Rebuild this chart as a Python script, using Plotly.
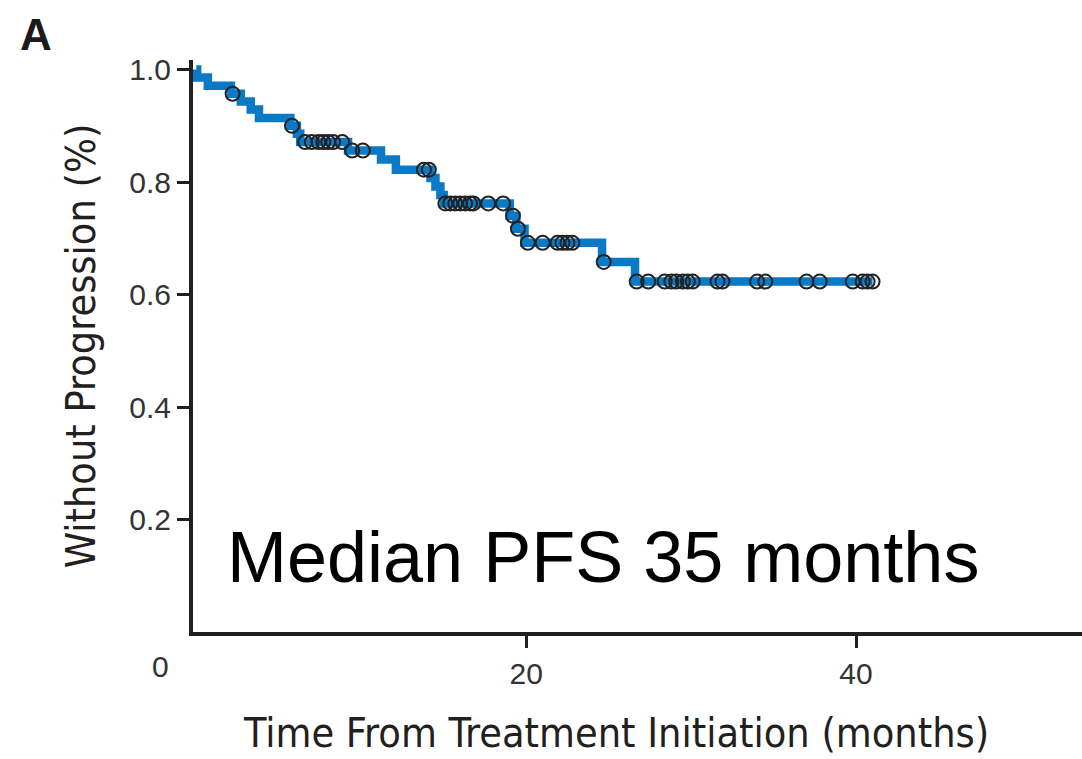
import plotly.graph_objects as go

# Kaplan-Meier step curve: event times (months) and survival level after each step
step_times = [0.0, 0.05, 0.7, 2.1, 2.7, 3.3, 3.8, 5.7, 6.1, 6.3, 9.2, 11.2, 12.1,
              14.2, 14.5, 14.8, 15.0, 19.0, 19.4, 19.9, 24.6, 26.6, 41.0]
step_surv = [1.0, 0.986, 0.971, 0.957, 0.943, 0.929, 0.914, 0.900, 0.886, 0.871,
             0.856, 0.840, 0.822, 0.807, 0.792, 0.777, 0.762, 0.740, 0.717, 0.692,
             0.658, 0.623, 0.623]

# Censored observations
censor_times = [2.2, 5.8, 6.6, 7.0, 7.4, 7.7, 8.0, 8.3, 8.85, 9.45, 10.1, 13.8, 14.1,
                15.1, 15.4, 15.7, 16.0, 16.3, 16.6, 16.8, 17.7, 18.6, 19.2, 19.5,
                20.1, 21.0, 21.9, 22.2, 22.5, 22.8, 24.7,
                26.7, 27.4, 28.4, 28.8, 29.1, 29.5, 29.8, 30.1, 31.6, 31.9,
                34.0, 34.5, 37.0, 37.8, 39.8, 40.4, 40.7, 41.0]
censor_surv = [0.957, 0.900, 0.871, 0.871, 0.871, 0.871, 0.871, 0.871, 0.871, 0.856, 0.856,
               0.822, 0.822,
               0.762, 0.762, 0.762, 0.762, 0.762, 0.762, 0.762, 0.762, 0.762, 0.740, 0.717,
               0.692, 0.692, 0.692, 0.692, 0.692, 0.692, 0.658,
               0.623, 0.623, 0.623, 0.623, 0.623, 0.623, 0.623, 0.623, 0.623, 0.623,
               0.623, 0.623, 0.623, 0.623, 0.623, 0.623, 0.623, 0.623]

x_ticks = [20, 40]
y_ticks = [0.2, 0.4, 0.6, 0.8, 1.0]
y_tick_text = ["0.2", "0.4", "0.6", "0.8", "1.0"]

BLUE = "#0a79c6"
INK = "#231f20"
NARROW = "Liberation Sans Narrow, DejaVu Sans Condensed, Liberation Sans, Arial"
SANS = "Liberation Sans, Arial, Helvetica"

fig = go.Figure()
fig.add_trace(go.Scatter(
    x=step_times, y=step_surv, mode="lines", line_shape="hv",
    line=dict(color=BLUE, width=8.5), hoverinfo="skip", showlegend=False,
))
fig.add_trace(go.Scatter(
    x=censor_times, y=censor_surv, mode="markers",
    marker=dict(symbol="circle-open", size=14, color="#222222", line=dict(width=2)),
    showlegend=False,
))

fig.update_layout(
    width=1082, height=759,
    margin=dict(l=193, r=0, t=60, b=127),
    paper_bgcolor="white", plot_bgcolor="white",
    font=dict(family=SANS, color="#333333"),
    xaxis=dict(
        range=[-0.2, 53.7], tickvals=x_ticks, ticktext=[str(v) for v in x_ticks],
        showgrid=False, zeroline=False, showline=True, linecolor=INK, linewidth=4,
        ticks="outside", ticklen=12, tickwidth=3, tickcolor=INK,
        tickfont=dict(size=30, family=SANS, color="#333333"),
    ),
    yaxis=dict(
        range=[0.0, 1.017], tickvals=y_ticks, ticktext=y_tick_text,
        showgrid=False, zeroline=False, showline=True, linecolor=INK, linewidth=4,
        ticks="outside", ticklen=12, tickwidth=3, tickcolor=INK,
        tickfont=dict(size=30, family=SANS, color="#333333"),
        title=dict(text="Without Progression (%)",
                   font=dict(size=41, family=NARROW, color="#231f20"), standoff=22),
    ),
)

# X-axis title, set slightly left of the plot-area centre and kept inside the page
fig.add_annotation(text="Time From Treatment Initiation (months)", xref="paper", yref="paper",
                   x=(616 - 193) / 889, y=-(758 - 632) / 572,
                   xanchor="center", yanchor="bottom", borderpad=0, showarrow=False,
                   font=dict(size=41, family=NARROW, color="#231f20"))
# Origin label sits left of the axis corner
fig.add_annotation(text="0", xref="paper", yref="paper", x=(160 - 193) / 889, y=-0.06,
                   xanchor="center", yanchor="middle", showarrow=False,
                   font=dict(size=30, family=SANS, color="#333333"))
# Panel letter
fig.add_annotation(text="<b>A</b>", xref="paper", yref="paper", x=-0.197, y=1.044,
                   xanchor="left", yanchor="middle", showarrow=False,
                   font=dict(size=44, family=SANS, color="#1a1a1a"))
# Median PFS note
fig.add_annotation(text="Median PFS 35 months", x=1.75, y=0.133, xref="x", yref="y",
                   xanchor="left", yanchor="middle", showarrow=False,
                   font=dict(size=72, family=SANS, color="black"))

fig.write_html("out.html")
